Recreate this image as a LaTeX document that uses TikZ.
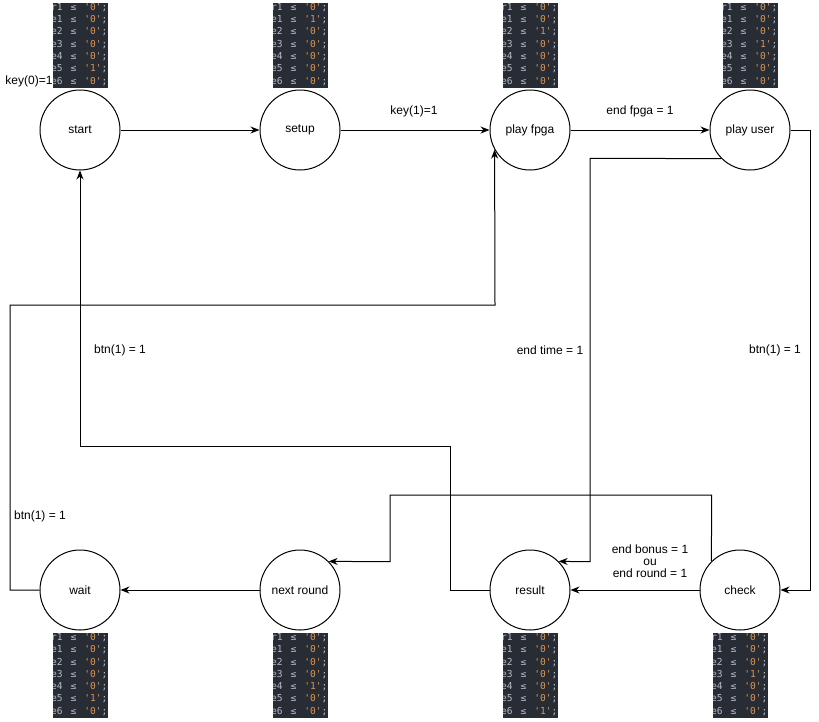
\documentclass[tikz,border=0pt]{standalone}
\usepackage{fontspec}
\setmainfont{Liberation Sans}
\setmonofont{DejaVu Sans Mono}
\usetikzlibrary{arrows.meta,calc}
\definecolor{codebg}{HTML}{282C34}
\definecolor{codegray}{HTML}{B4BAC4}
\definecolor{codeorange}{HTML}{D8975C}
\tikzset{
  state/.style={draw,circle,line width=1pt,minimum size=80pt,inner sep=0pt,font=\fontsize{12}{14}\selectfont},
  lbl/.style={inner sep=1pt,font=\fontsize{12}{14}\selectfont,align=center},
  conn/.style={line width=1pt,-{Stealth[length=9pt,width=7pt]}},
  codetxt/.style={inner sep=0pt,anchor=west,text=codegray,font=\ttfamily\fontsize{9.6}{12}\selectfont}
}
\newcommand\cblk[4]{%
  \begin{scope}
    \clip (#2,#3) rectangle ++(55,85);
    \fill[codebg] (#2,#3) rectangle ++(55,85);
    \foreach \n/\v [count=\i from 0] in {#4}{
      \node[codetxt] (#1-\i) at ($(#2,#3)+(-2,4.5+\i*12.3)$) {\n\ \makebox[10pt]{≤}\ \textcolor{codeorange}{'\v'};};
    }
  \end{scope}}
\begin{document}
\begin{tikzpicture}[x=1pt,y=-1pt]
\useasboundingbox (0,0) rectangle (819,721);
\fill[white] (0,0) rectangle (819,721);
% states
\node[state] (start) at (80,130) {start};
\node[state] (setup) at (300,130) {setup};
\node[state] (pfpga) at (530,130) {play fpga};
\node[state] (puser) at (750,130) {play user};
\node[state] (wait) at (80,590) {wait};
\node[state] (nround) at (300,590) {next round};
\node[state] (result) at (530,590) {result};
\node[state] (check) at (740,590) {check};
% code blocks
\cblk{cA}{53}{3}{r1/0,e1/0,e2/0,e3/0,e4/0,e5/1,e6/0}
\cblk{cB}{273}{3}{r1/0,e1/1,e2/0,e3/0,e4/0,e5/0,e6/0}
\cblk{cC}{503}{3}{r1/0,e1/0,e2/1,e3/0,e4/0,e5/0,e6/0}
\cblk{cD}{723}{3}{r1/0,e1/0,e2/0,e3/1,e4/0,e5/0,e6/0}
\cblk{cE}{53}{633}{r1/0,e1/0,e2/0,e3/0,e4/0,e5/1,e6/0}
\cblk{cF}{273}{633}{r1/0,e1/0,e2/0,e3/0,e4/1,e5/0,e6/0}
\cblk{cG}{503}{633}{r1/0,e1/0,e2/0,e3/0,e4/0,e5/0,e6/1}
\cblk{cH}{713}{633}{r1/0,e1/0,e2/0,e3/1,e4/0,e5/0,e6/0}
% bend coordinates
\coordinate (b1) at (810,130);
\coordinate (b2) at (590,158.3);
\coordinate (b3) at (590,561.7);
\coordinate (b4) at (711.7,495);
\coordinate (b5) at (390,495);
\coordinate (b6) at (390,561.7);
\coordinate (b7) at (450,590);
\coordinate (b8) at (450,446);
\coordinate (b9) at (80,446);
\coordinate (b10) at (10,590);
\coordinate (b11) at (10,305);
\coordinate (b12) at (495,305);
% connectors
\draw[conn] (start) -- (setup);
\draw[conn] (setup) -- (pfpga);
\draw[conn] (pfpga) -- (puser);
\draw[conn] (puser.east) -- (b1) |- (check.east);
\draw[conn] (puser.225) -- (b2) -- (b3) -- (result.45);
\draw[conn] (check) -- (result);
\draw[conn] (check.135) -- (b4) -- (b5) -- (b6) -- (nround.45);
\draw[conn] (result.west) -- (b7) -- (b8) -- (b9) -- (start.south);
\draw[conn] (nround) -- (wait);
\draw[conn] (wait.west) -- (b10) -- (b11) -- (b12) -- (pfpga.209);
% labels
\node[lbl] (l0) at (29,81) {key(0)=1};
\node[lbl] (l1) at (414,111) {key(1)=1};
\node[lbl] (l2) at (640,111) {end fpga = 1};
\node[lbl] (l3) at (775,350) {btn(1) = 1};
\node[lbl] (l4) at (550,350) {end time = 1};
\node[lbl] (l5) at (650,561) {end bonus = 1\\[-2pt]ou\\[-2pt] end round = 1};
\node[lbl] (l6) at (120,350) {btn(1) = 1};
\node[lbl] (l7) at (40,516) {btn(1) = 1};
\end{tikzpicture}
\end{document}
